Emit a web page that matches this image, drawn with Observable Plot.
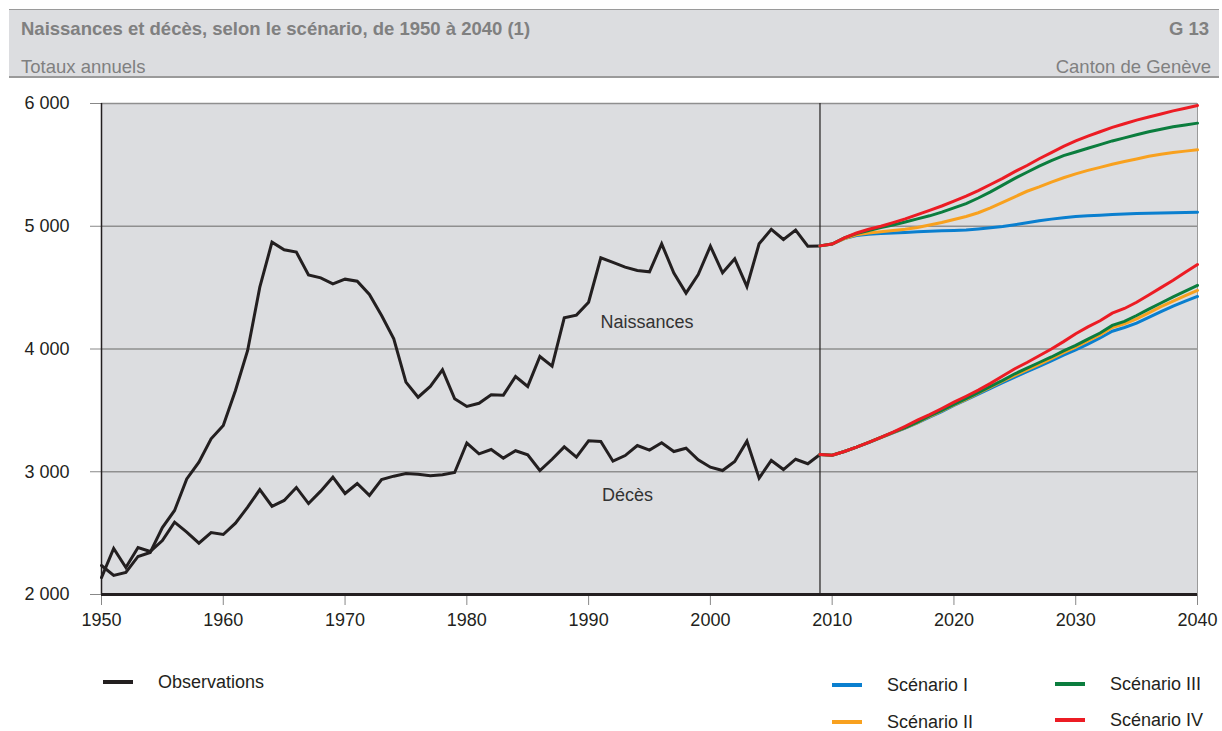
<!DOCTYPE html>
<html>
<head>
<meta charset="utf-8">
<script src="https://cdn.jsdelivr.net/npm/d3@7"></script>
<script src="https://cdn.jsdelivr.net/npm/@observablehq/plot@0.6"></script>
<style>
  html, body { margin: 0; padding: 0; background: #fff; }
  body { font-family: "Liberation Sans", Arial, sans-serif; }
  #wrap { position: relative; width: 1222px; height: 731px; overflow: hidden; }
  #header { position: absolute; left: 9px; top: 9px; width: 1210px; height: 69px;
            background: #dcdde0; border-top: 1px solid #9a9a9a; border-bottom: 2px solid #9a9a9a; box-sizing: border-box; color: #808080; }
  #title { position: absolute; left: 12px; top: 8px; font-size: 18.5px; font-weight: bold; }
  #code { position: absolute; right: 10px; top: 8px; font-size: 18.5px; font-weight: bold; }
  #subtitle { position: absolute; left: 12px; top: 46px; font-size: 18.5px; }
  #place { position: absolute; right: 8px; top: 46px; font-size: 18.5px; }
  #chart { position: absolute; left: 0; top: 88px; }
  .leg { position: absolute; font-size: 18px; color: #231f20; line-height: 16px; }
  .sw { position: absolute; width: 30px; height: 4px; }
</style>
</head>
<body>
<div id="wrap">
  <div id="header">
    <div id="title">Naissances et décès, selon le scénario, de 1950 à 2040 (1)</div>
    <div id="code">G 13</div>
    <div id="subtitle">Totaux annuels</div>
    <div id="place">Canton de Genève</div>
  </div>
  <div id="chart"></div>
  <div id="legend"></div>
</div>
<script>
// ---- Data ----
const obsYears = d3.range(1950, 2010);
const obsBirths = [2236, 2155, 2180, 2310, 2342, 2545, 2685, 2942, 3078, 3268,
  3377, 3662, 3988, 4504, 4870, 4808, 4789, 4604, 4580, 4531,
  4569, 4552, 4444, 4273, 4083, 3730, 3607, 3695, 3830, 3594,
  3532, 3558, 3628, 3624, 3776, 3695, 3939, 3860, 4254, 4276,
  4381, 4743, 4705, 4667, 4640, 4629, 4857, 4618, 4455, 4607,
  4838, 4621, 4735, 4509, 4857, 4975, 4892, 4968, 4838, 4840];
const obsDeaths = [2138, 2375, 2220, 2383, 2350, 2440, 2589, 2508, 2418, 2505,
  2489, 2581, 2711, 2855, 2719, 2766, 2872, 2741, 2842, 2956,
  2823, 2904, 2807, 2937, 2964, 2985, 2980, 2967, 2975, 2994,
  3234, 3146, 3181, 3111, 3171, 3138, 3010, 3102, 3203, 3119,
  3252, 3246, 3086, 3132, 3214, 3176, 3236, 3165, 3192, 3097,
  3037, 3010, 3083, 3249, 2948, 3092, 3018, 3102, 3065, 3141];

const projYears = d3.range(2009, 2041);
const birthsI   = [4840, 4855, 4900, 4925, 4935, 4940, 4945, 4950, 4955, 4960, 4963, 4966, 4970, 4978, 4988, 4998, 5012, 5028, 5045, 5058, 5070, 5079, 5085, 5090, 5096, 5100, 5103, 5106, 5108, 5110, 5112, 5114];
const birthsII  = [4840, 4855, 4900, 4930, 4945, 4955, 4965, 4975, 4990, 5010, 5030, 5055, 5080, 5110, 5150, 5195, 5240, 5285, 5320, 5360, 5395, 5427, 5455, 5480, 5505, 5527, 5548, 5570, 5587, 5600, 5612, 5623];
const birthsIII = [4840, 4855, 4905, 4940, 4965, 4990, 5010, 5035, 5060, 5085, 5115, 5150, 5185, 5230, 5280, 5335, 5390, 5440, 5490, 5535, 5575, 5605, 5635, 5665, 5695, 5720, 5745, 5770, 5790, 5810, 5825, 5840];
const birthsIV  = [4840, 4855, 4905, 4945, 4975, 5000, 5030, 5060, 5095, 5130, 5165, 5205, 5245, 5290, 5340, 5390, 5445, 5495, 5550, 5600, 5650, 5695, 5735, 5770, 5805, 5835, 5865, 5890, 5915, 5940, 5962, 5984];
const deathsI   = [3141, 3135, 3165, 3200, 3238, 3278, 3316, 3355, 3398, 3445, 3490, 3540, 3585, 3632, 3680, 3725, 3771, 3815, 3858, 3903, 3950, 3993, 4040, 4090, 4145, 4175, 4211, 4258, 4305, 4350, 4390, 4428];
const deathsII  = [3141, 3135, 3165, 3200, 3239, 3279, 3318, 3358, 3400, 3450, 3495, 3545, 3590, 3640, 3690, 3738, 3785, 3830, 3875, 3922, 3970, 4015, 4065, 4115, 4175, 4205, 4246, 4295, 4345, 4390, 4435, 4477];
const deathsIII = [3141, 3135, 3165, 3200, 3240, 3280, 3320, 3360, 3405, 3455, 3500, 3548, 3595, 3645, 3695, 3745, 3798, 3845, 3890, 3935, 3985, 4029, 4080, 4130, 4192, 4225, 4273, 4325, 4375, 4425, 4472, 4518];
const deathsIV  = [3141, 3135, 3165, 3200, 3240, 3280, 3322, 3370, 3420, 3465, 3515, 3567, 3615, 3665, 3720, 3780, 3839, 3890, 3945, 4000, 4060, 4124, 4180, 4230, 4292, 4330, 4381, 4440, 4500, 4560, 4625, 4688];

const seriesNames = ["Observations", "Scénario I", "Scénario II", "Scénario III", "Scénario IV"];
const seriesColors = ["#231f20", "#0a7fcf", "#f8a11f", "#0b7d3e", "#ec1c24"];
const xTicks = [1950, 1960, 1970, 1980, 1990, 2000, 2010, 2020, 2030, 2040];
const yTicks = [2000, 3000, 4000, 5000, 6000];
const gridValues = [3000, 4000, 5000, 6000];
const separatorYear = [2009];
const curveLabels = [
  {year: 1994.8, value: 4216, text: "Naissances"},
  {year: 1993.2, value: 2807, text: "Décès"}
];

// ---- Build table ----
const rows = [];
obsYears.forEach((y, i) => {
  rows.push({year: y, value: obsBirths[i], series: "Observations", kind: "n"});
});
obsYears.forEach((y, i) => {
  rows.push({year: y, value: obsDeaths[i], series: "Observations", kind: "d"});
});
const proj = [
  ["Scénario I", birthsI, deathsI],
  ["Scénario II", birthsII, deathsII],
  ["Scénario III", birthsIII, deathsIII],
  ["Scénario IV", birthsIV, deathsIV]
];
for (const [name, b, d] of proj) {
  projYears.forEach((y, i) => rows.push({year: y, value: b[i], series: name, kind: "n"}));
  projYears.forEach((y, i) => rows.push({year: y, value: d[i], series: name, kind: "d"}));
}

const fmt = d => d3.format(",")(d).replace(/,/g, " ");

const chart = Plot.plot({
  width: 1222,
  height: 552,
  marginTop: 15,
  marginBottom: 46,
  marginLeft: 101,
  marginRight: 25,
  style: {background: "transparent", fontFamily: "'Liberation Sans', Arial, sans-serif", fontSize: "18px", color: "#231f20"},
  x: {domain: [1950, 2040], axis: null},
  y: {domain: [2000, 6000], axis: null},
  color: {domain: seriesNames, range: seriesColors},
  marks: [
    Plot.frame({fill: "#dcdde0", stroke: null}),
    Plot.ruleY(gridValues, {stroke: "#8f8f8f", strokeWidth: 1.3}),
    Plot.ruleX([2040], {stroke: "#9a9a9a", strokeWidth: 1}),
    Plot.ruleX(separatorYear, {stroke: "#231f20", strokeWidth: 1.2}),
    Plot.axisX({ticks: xTicks, tickFormat: d => String(d), tickSize: 11, tickPadding: 8, stroke: "#888", fill: "#231f20", fontSize: 18, label: null}),
    Plot.axisY({ticks: yTicks, tickFormat: fmt, tickSize: 11, tickPadding: 21, stroke: "#888", fill: "#231f20", fontSize: 18, label: null}),
    Plot.line(rows, {x: "year", y: "value", z: d => d.series + d.kind, stroke: "series", strokeWidth: 3, strokeLinejoin: "miter", strokeMiterlimit: 4}),
    Plot.ruleX([1950], {stroke: "#231f20", strokeWidth: 1.5}),
    Plot.ruleY([2000], {stroke: "#231f20", strokeWidth: 3}),
    Plot.text(curveLabels, {x: "year", y: "value", text: "text", fontSize: 18, fill: "#333"})
  ]
});
document.getElementById("chart").appendChild(chart);

// ---- Legend (HTML) ----
const legendItems = [
  {name: "Observations", sx: 103, tx: 158, y: 682},
  {name: "Scénario I",   sx: 832, tx: 887, y: 685},
  {name: "Scénario II",  sx: 832, tx: 887, y: 722},
  {name: "Scénario III", sx: 1055, tx: 1110, y: 684},
  {name: "Scénario IV",  sx: 1055, tx: 1110, y: 720}
];
const leg = document.getElementById("legend");
legendItems.forEach(it => {
  const c = seriesColors[seriesNames.indexOf(it.name)];
  const sw = document.createElement("div");
  sw.className = "sw";
  sw.style.left = it.sx + "px";
  sw.style.top = (it.y - 2) + "px";
  sw.style.background = c;
  leg.appendChild(sw);
  const t = document.createElement("div");
  t.className = "leg";
  t.style.left = it.tx + "px";
  t.style.top = (it.y - 8) + "px";
  t.textContent = it.name;
  leg.appendChild(t);
});
</script>
</body>
</html>
